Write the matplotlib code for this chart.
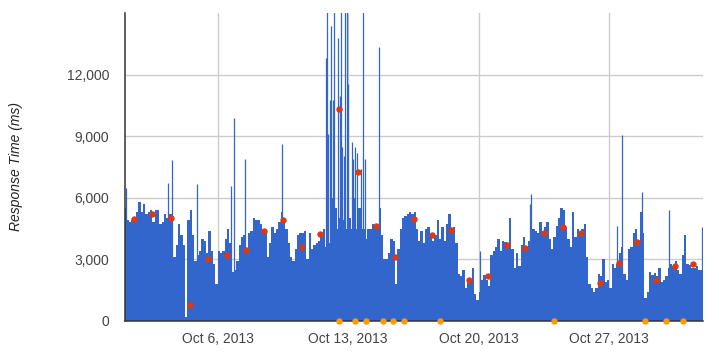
import numpy as np
import matplotlib
matplotlib.use("Agg")
import matplotlib.pyplot as plt
import matplotlib.dates as mdates
import pandas as pd

plt.rcParams["font.family"] = ["Liberation Sans", "DejaVu Sans"]

# response time in 3-hour buckets, one row per day (Oct 1 .. Oct 31, 2013)
resp_ms = [
    5500, 4900, 4800, 4900, 5000, 5300, 5800, 5300,   # Oct 1
    5700, 5200, 5300, 5400, 4800, 5400, 5400, 4700,
    4800, 5200, 5000, 5200, 5200, 3100, 3700, 4700,
    4200, 3700, 200, 4900, 5400, 4200, 2900, 3200,
    3400, 4000, 3900, 3300, 4400, 3400, 2800, 1800,
    3400, 3300, 3400, 4000, 4500, 3800, 2400, 2500,   # Oct 6
    2900, 3700, 4100, 4200, 3300, 4300, 4400, 5000,
    4900, 4900, 4700, 4400, 4300, 3100, 3800, 4600,
    4300, 4500, 4800, 5300, 4800, 4500, 3800, 3100,
    2900, 3500, 4200, 4300, 4300, 4400, 3000, 4300,
    3500, 3700, 3800, 3900, 4300, 4500, 3600, 3800,   # Oct 11
    7000, 6000, 5500, 4500, 5000, 4900, 3500, 4500,
    5000, 4500, 6000, 4500, 5500, 5500, 4500, 4000,   # Oct 13
    4500, 4500, 4700, 4600, 4500, 5500, 4200, 3000,
    3000, 3300, 4000, 3900, 1800, 3500, 4500, 5000,
    5100, 5200, 5300, 5200, 5300, 4500, 3900, 4400,   # Oct 16
    3800, 4500, 4600, 4100, 3900, 4200, 4900, 4000,
    4600, 3900, 4700, 5200, 4500, 4600, 3800, 2300,
    2200, 2500, 1600, 2100, 2000, 2600, 1300, 1000,
    1400, 2000, 2250, 2000, 1700, 3200, 3400, 3600,   # Oct 20
    4000, 3400, 3900, 3850, 3800, 5000, 3500, 2600,
    3300, 2700, 3700, 4100, 3600, 3900, 4800, 4500,
    4400, 4300, 4800, 4200, 4600, 4800, 4000, 3500,
    4100, 4650, 5000, 5500, 5400, 4600, 4000, 3600,
    5300, 4100, 4500, 4200, 4500, 4700, 3100, 1800,
    1600, 1400, 1600, 2300, 2200, 3000, 1900, 2000,
    1600, 2800, 2600, 2800, 3300, 3600, 2300, 2000,   # Oct 27
    3500, 3600, 4300, 4500, 3900, 5300, 4300, 1100,
    1400, 2400, 2250, 2350, 2200, 2600, 1900, 2000,
    2200, 2600, 2800, 2700, 2900, 2500, 2300, 3200,
    4200, 2800, 2750, 2600, 2600, 2700, 2500, 2500,   # Oct 31
]

# single hours that shoot far above the bucket level (hours since Oct 1 00:00)
spike_hour = [1, 55, 60, 93, 137, 141, 154, 202,
              259, 260, 262, 264, 265, 268, 269, 274, 277, 278, 280, 282,
              283, 286, 287, 292, 293, 296, 299, 304, 306, 309, 327,
              457, 521, 523, 633, 640, 666, 700, 743]
spike_ms = [6500, 6700, 7830, 6650, 6570, 9870, 7880, 8610,
            12800, 16000, 9100, 10770, 14370, 10770, 16000, 13780, 10960, 16000, 8450, 8040,
            16000, 16000, 11550, 8740, 7880, 8450, 8170, 7420, 16000, 7880, 13340,
            3400, 5700, 6200, 4650, 9050, 6300, 5400, 4600]

# red points, one per day at noon
daily_ms = [4990, 5220, 5010, 780, 3020, 3230, 3475, 4370, 4910, 3605,
            4220, 10310, 7280, 4620, 3120, 4980, 4180, 4450, 1990, 2200,
            3690, 3570, 4290, 4580, 4290, 1830, 2840, 3870, 2020, 2680, 2800]

# orange markers on the axis
events = ["2013-10-12 12:00", "2013-10-13 08:40", "2013-10-13 23:00",
          "2013-10-14 21:00", "2013-10-15 10:00", "2013-10-16 00:00",
          "2013-10-17 22:00", "2013-10-24 00:45", "2013-10-28 22:00",
          "2013-10-30 00:30", "2013-10-30 23:00"]

tick_days = ["2013-10-06", "2013-10-13", "2013-10-20", "2013-10-27"]
tick_labels = ["Oct 6, 2013", "Oct 13, 2013", "Oct 20, 2013", "Oct 27, 2013"]

start = pd.Timestamp("2013-10-01")
edges = pd.date_range(start, periods=len(resp_ms) + 1, freq="3h")
spike_t = start + pd.to_timedelta(spike_hour, unit="h") + pd.Timedelta(minutes=30)
noon_t = pd.date_range("2013-10-01 12:00", periods=len(daily_ms), freq="D")
event_t = pd.to_datetime(events)

blue = "#3366CC"

fig = plt.figure(figsize=(7.19, 3.58), dpi=100)
ax = fig.add_axes([124.5 / 719, 37 / 358, 578 / 719, 308 / 358])

ax.stairs(resp_ms, mdates.date2num(edges), fill=True, color=blue, lw=0)
ax.vlines(mdates.date2num(spike_t), 0, spike_ms, colors=blue, lw=0.9)
ax.plot(mdates.date2num(noon_t), daily_ms, "o", color="#DC3912", ms=3.6,
        mec="#DC3912", zorder=4)
ax.plot(mdates.date2num(event_t), np.zeros(len(events)), "o", color="#FF9900",
        ms=3.6, clip_on=False, zorder=5)

ax.set_xlim(mdates.date2num(pd.Timestamp("2013-10-01")),
            mdates.date2num(pd.Timestamp("2013-11-01")))
ax.set_ylim(0, 15000)

ax.set_xticks(mdates.date2num(pd.to_datetime(tick_days)))
ax.set_xticklabels(tick_labels)
ax.set_yticks([0, 3000, 6000, 9000, 12000])
ax.set_yticklabels(["0", "3,000", "6,000", "9,000", "12,000"])
ax.tick_params(axis="both", length=0, labelsize=10, colors="#444444")
ax.tick_params(axis="x", pad=8)
ax.tick_params(axis="y", pad=11)

ax.set_axisbelow(True)
ax.grid(True, color="#CCCCCC", lw=1.0)
for side in ["top", "right"]:
    ax.spines[side].set_visible(False)
for side in ["left", "bottom"]:
    ax.spines[side].set_color("#333333")
    ax.spines[side].set_linewidth(1.1)

fig.text(16 / 719, 1 - 167 / 358, "Response Time (ms)", rotation=90,
         ha="center", va="center", style="italic", fontsize=10, color="#222222")

fig.savefig("out.png", dpi=100)
